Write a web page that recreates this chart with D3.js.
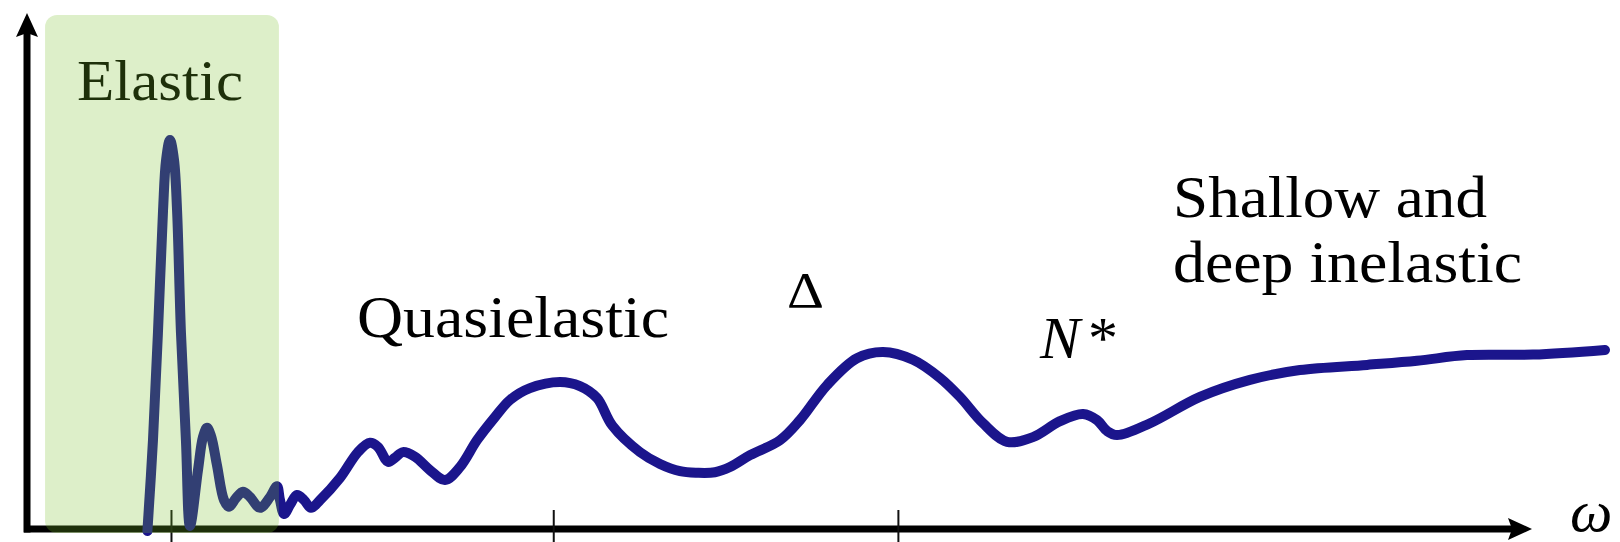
<!DOCTYPE html>
<html>
<head>
<meta charset="utf-8">
<script src="https://cdn.jsdelivr.net/npm/d3@7"></script>
</head>
<body style="margin:0;background:#fff">
<div id="wrap" style="position:relative;width:1620px;height:542px;overflow:hidden">
  <svg id="chart" width="1620" height="542" style="display:block;position:absolute;left:0;top:0"></svg>
  <div id="labels" style="position:absolute;left:0;top:0;width:1620px;height:542px;pointer-events:none"></div>
</div>
<script>
// Schematic nuclear response vs. energy transfer (arbitrary units)
const omega = [
  80, 83.7, 87.0, 90.4, 92.4, 95.0, 97.7, 99.7, 102.3, 105.6, 108.3,
  113.6, 116.9, 119.6, 122.3, 126.2, 130.9, 134.2, 138.9, 143.5, 148.2,
  154.8, 161.5, 166.1, 168.1, 170.8, 174.8, 179.4, 184.1, 188.7, 194.7,
  208.0, 219.9, 227.9, 233.2, 239.9, 244.5, 249.8, 257.8, 267.8, 277.7,
  287.7, 299.0, 311.0, 320.9, 334.2, 354.2, 367.4, 378.7, 389.0,
  407.3, 420.6, 433.9, 445.2, 457.1, 467.1, 480.4, 500.3, 513.6, 531.6,
  551.5, 568.8, 588.7, 606.6, 619.9, 635.2, 651.2, 668.4, 686.4, 701.7,
  711.0, 717.6, 724.3, 746.2, 779.4, 812.6, 845.8, 890.4, 923.6, 956.8,
  1000.7, 1048.5
];
const intensity = [
  -0.4, 17.2, 38.0, 61.8, 71.5, 75.4, 71.5, 61.8, 38.0, 17.2, 0.6,
  11.4, 17.8, 19.6, 18.0, 12.4, 5.6, 4.3, 6.0, 7.2, 6.2,
  4.1, 6.2, 8.3, 5.6, 2.9, 4.7, 6.6, 5.6, 4.1, 5.6,
  9.9, 14.9, 16.7, 15.9, 13.0, 13.8, 14.9, 14.0, 11.4, 9.5,
  12.0, 17.2, 21.7, 25.0, 27.3, 28.5, 27.7, 25.4, 20.0,
  14.9, 12.6, 11.2, 10.9, 11.0, 12.0, 14.3, 17.2, 21.1, 27.9,
  33.1, 34.3, 32.8, 29.3, 25.6, 20.5, 16.9, 17.8, 20.9, 22.3,
  21.1, 19.0, 18.2, 20.5, 25.6, 28.9, 30.8, 31.8, 32.6, 33.7,
  33.8, 34.7
];
const tickOmega = [96, 350, 579];
const elasticRange = [12, 167.4];
const axisMax = { omega: 1000, intensity: 100 };

const svg = d3.select("#chart");
const layer = d3.select("#labels");
const x = d3.scaleLinear().domain([0, 1050]).range([27, 1607.25]);
const y = d3.scaleLinear().domain([0, 100]).range([529, 13]);

const axisW = 7;

// x axis with arrow
svg.append("line")
  .attr("x1", x(0) - 3).attr("x2", x(axisMax.omega) - 18)
  .attr("y1", y(0)).attr("y2", y(0))
  .attr("stroke", "#000").attr("stroke-width", axisW);
svg.append("path")
  .attr("d", `M${x(axisMax.omega)},${y(0)} L${x(axisMax.omega) - 24},${y(0) - 11} L${x(axisMax.omega) - 20},${y(0)} L${x(axisMax.omega) - 24},${y(0) + 11} Z`)
  .attr("fill", "#000");

// y axis with arrow
svg.append("line")
  .attr("x1", x(0)).attr("x2", x(0))
  .attr("y1", y(0) + 3.5).attr("y2", y(axisMax.intensity) + 18)
  .attr("stroke", "#000").attr("stroke-width", axisW);
svg.append("path")
  .attr("d", `M${x(0)},${y(axisMax.intensity)} L${x(0) - 11},${y(axisMax.intensity) + 24} L${x(0)},${y(axisMax.intensity) + 20} L${x(0) + 11},${y(axisMax.intensity) + 24} Z`)
  .attr("fill", "#000");

// tick marks on the energy axis
svg.selectAll("line.tick").data(tickOmega).join("line")
  .attr("class", "tick")
  .attr("x1", d => x(d)).attr("x2", d => x(d))
  .attr("y1", y(0) - 19).attr("y2", 542)
  .attr("stroke", "#111").attr("stroke-width", 2);

// response curve
const pts = omega.map((w, i) => [w, intensity[i]]);
const line = d3.line()
  .x(d => x(d[0])).y(d => y(d[1]))
  .curve(d3.curveCatmullRom.alpha(0.5));
svg.append("path")
  .datum(pts)
  .attr("d", line)
  .attr("fill", "none")
  .attr("stroke", "#1b158c")
  .attr("stroke-width", 10)
  .attr("stroke-linejoin", "round")
  .attr("stroke-linecap", "round");

// elastic band shading
svg.append("rect")
  .attr("x", x(elasticRange[0])).attr("y", 15)
  .attr("width", x(elasticRange[1]) - x(elasticRange[0]))
  .attr("height", 533 - 15)
  .attr("rx", 12).attr("ry", 12)
  .attr("fill", "rgb(120,190,40)")
  .attr("fill-opacity", 0.25);

// region labels: set at a moderate font size, then scaled up about the baseline
function label(txt, px, py, size, width, opts = {}) {
  const base = 48;
  const div = layer.append("div")
    .style("position", "absolute").style("left", px + "px").style("top", "0px")
    .style("font-family", "Liberation Serif")
    .style("font-size", base + "px")
    .style("line-height", "1")
    .style("white-space", "nowrap")
    .style("color", opts.color || "#000")
    .style("font-style", opts.italic ? "italic" : "normal");
  const span = div.append("span").text(txt);
  const mark = div.append("span")
    .style("display", "inline-block").style("width", "0px").style("height", "0px")
    .style("vertical-align", "baseline");
  const b = mark.node().offsetTop;
  const w = span.node().getBoundingClientRect().width;
  const sy = size / base;
  const sx = width ? width / w : sy;
  div.style("top", (py - b) + "px")
    .style("transform-origin", `0px ${b}px`)
    .style("transform", `scale(${sx}, ${sy})`);
  return div;
}
label("Elastic", 77, 100, 58, 166, { color: "#1e300a" });
label("Quasielastic", 357, 337, 59, 312);
label("Δ", 787, 307, 51, 37);
label("N", 1040, 358, 60, null, { italic: true });
label("*", 1088, 358, 60, null);
label("Shallow and", 1173, 217, 59, 314);
label("deep inelastic", 1173, 282, 59, 349);
label("ω", 1570, 531, 60, null, { italic: true });
</script>
</body>
</html>
